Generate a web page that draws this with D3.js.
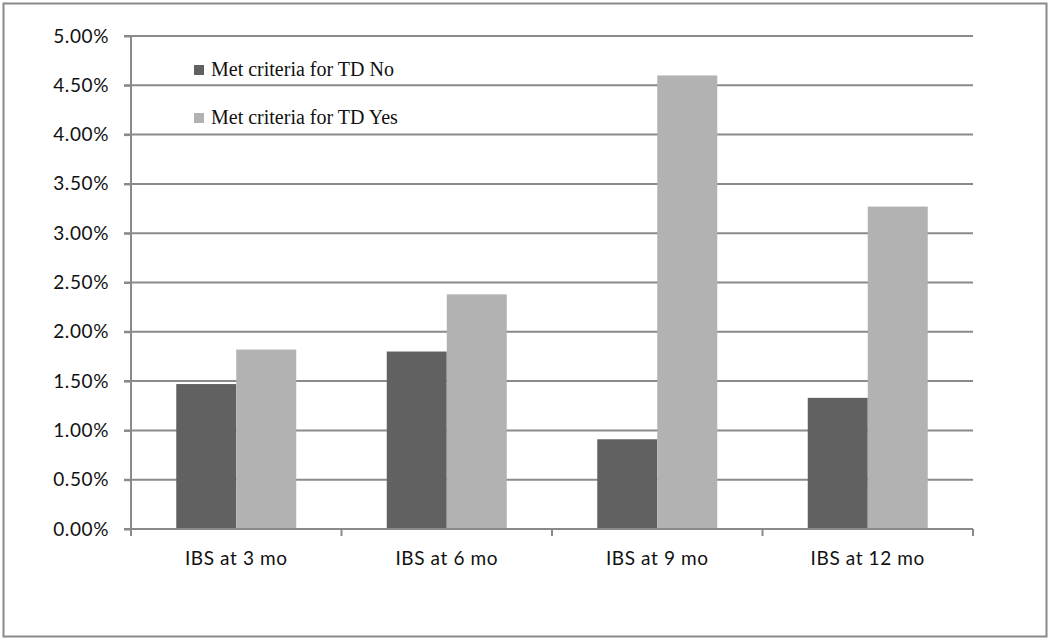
<!DOCTYPE html>
<html><head><meta charset="utf-8">
<script src="https://cdn.jsdelivr.net/npm/d3@7"></script>
<style>body{margin:0;background:#fff}</style>
</head><body>
<svg id="c" width="1050" height="641"></svg>
<script>
const categories = ["IBS at 3 mo","IBS at 6 mo","IBS at 9 mo","IBS at 12 mo"];
const seriesNames = ["Met criteria for TD No","Met criteria for TD Yes"];
const seriesNo = [0.0147, 0.0180, 0.0091, 0.0133];
const seriesYes = [0.0182, 0.0238, 0.0460, 0.0327];
const yTicks = [0,0.005,0.01,0.015,0.02,0.025,0.03,0.035,0.04,0.045,0.05];
const colors = ["#616161","#b2b2b2"];

const svg = d3.select("#c");
svg.append("rect").attr("x",3.5).attr("y",3.5).attr("width",1043).attr("height",633)
  .attr("fill","#fff").attr("stroke","#8a8a8a").attr("stroke-width",2);

const L=131, R=973, T=36, B=529;
const x = d3.scaleBand().domain(categories).range([L,R]).paddingInner(0.43).paddingOuter(0.215);
const xs = d3.scaleBand().domain(seriesNames).range([0,x.bandwidth()]);
const y = d3.scaleLinear().domain([0,0.05]).range([B,T]);

// gridlines
svg.append("g").selectAll("line").data(yTicks).join("line")
  .attr("x1",L-7).attr("x2",R).attr("y1",d=>y(d)).attr("y2",d=>y(d))
  .attr("stroke","#8a8a8a").attr("stroke-width",2);

const data = [seriesNo, seriesYes];
data.forEach((vals,si)=>{
  svg.append("g").selectAll("rect").data(vals).join("rect")
    .attr("x",(d,i)=>x(categories[i])+xs(seriesNames[si]))
    .attr("width",xs.bandwidth())
    .attr("y",d=>y(d)).attr("height",d=>B-y(d))
    .attr("fill",colors[si]);
});

// y axis
const yAxis = d3.axisLeft(y).tickValues(yTicks).tickFormat(d3.format(".2%")).tickSize(7).tickPadding(15);
const gy = svg.append("g").attr("transform",`translate(${L},0)`).call(yAxis);
gy.select(".domain").attr("stroke","#8a8a8a").attr("stroke-width",2).attr("d",`M0,${T}V${B}`);
gy.selectAll(".tick line").attr("stroke","#8a8a8a").attr("stroke-width",2);
gy.selectAll(".tick text").attr("font-family","Lato, 'Open Sans', sans-serif").attr("font-size",19)
  .attr("letter-spacing",0.6).attr("fill","#111");

// x axis
svg.append("line").attr("x1",L).attr("x2",R).attr("y1",B).attr("y2",B).attr("stroke","#8a8a8a").attr("stroke-width",2);
const bounds = d3.range(categories.length+1).map(i=>L+i*(R-L)/categories.length);
svg.append("g").selectAll("line").data(bounds).join("line")
  .attr("x1",d=>d).attr("x2",d=>d).attr("y1",B).attr("y2",B+7)
  .attr("stroke","#8a8a8a").attr("stroke-width",2);
svg.append("g").selectAll("text").data(categories).join("text")
  .attr("x",d=>x(d)+x.bandwidth()/2).attr("y",565)
  .attr("text-anchor","middle").attr("font-family","Lato, 'Open Sans', sans-serif")
  .attr("font-size",19).attr("letter-spacing",0.6).attr("fill","#111").text(d=>d);

// legend
const leg = svg.append("g");
seriesNames.forEach((n,i)=>{
  const yy = 70 + i*48;
  leg.append("rect").attr("x",194).attr("y",yy-5).attr("width",10).attr("height",10).attr("fill",colors[i]);
  leg.append("text").attr("x",211).attr("y",yy+6).attr("font-family","'Liberation Serif', serif")
    .attr("font-size",20).attr("fill","#111").text(n);
});
</script>
</body></html>
